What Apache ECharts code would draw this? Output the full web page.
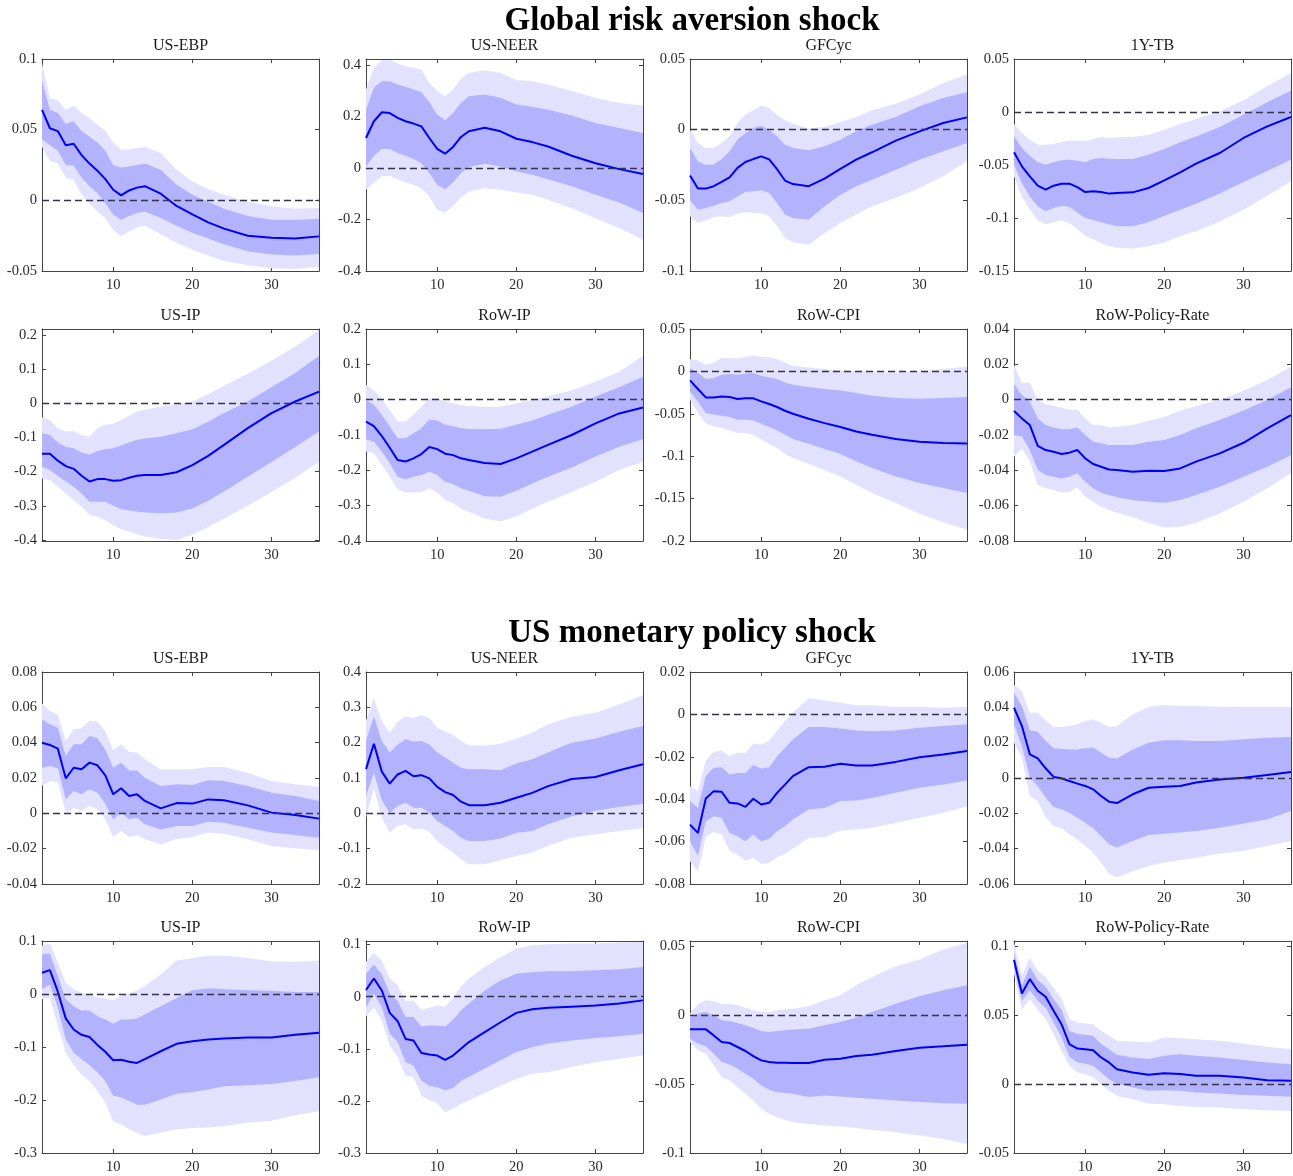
<!DOCTYPE html>
<html>
<head>
<meta charset="utf-8">
<script src="https://cdn.jsdelivr.net/npm/echarts@6/dist/echarts.min.js"></script>
<style>
html, body { margin: 0; padding: 0; background: #fff; }
#main { width: 1293px; height: 1176px; }
</style>
</head>
<body>
<div id="main"></div>
<script>
var horizons = [1,2,3,4,5,6,7,8,9,10,11,12,13,14, 16,18,20,22,24,27,30,33,36];

// ---- Global risk aversion shock ----
var grEbpMed  = [.064,.051,.049,.039,.040,.032,.026,.021,.015,.0075,.0035,.007,.009,.010, .0047,-.004,-.010,-.0156,-.020,-.025,-.0264,-.027,-.0255];
var grEbpHi90 = [.097,.072,.071,.064,.067,.062,.058,.0535,.049,.041,.036,.036,.037,.038, .0335,.0217,.0134,.008,.004,-.001,-.0042,-.0059,-.0054];
var grEbpHi68 = [.085,.064,.062,.054,.056,.049,.045,.041,.035,.025,.023,.024,.025,.026, .0217,.011,.004,-.001,-.006,-.011,-.0137,-.014,-.013];
var grEbpLo68 = [.043,.039,.035,.025,.0245,.016,.010,.005,-.002,-.010,-.014,-.011,-.009,-.008, -.0125,-.018,-.023,-.027,-.031,-.036,-.0384,-.039,-.038];
var grEbpLo90 = [.038,.028,.026,.016,.0146,.004,-.002,-.008,-.0125,-.021,-.0255,-.022,-.019,-.018, -.024,-.030,-.035,-.039,-.043,-.046,-.048,-.0486,-.047];

var grNeerMed  = [.117,.182,.217,.214,.195,.182,.173,.162,.117,.075,.056,.082,.121,.143, .157,.143,.114,.101,.084,.048,.019,-.004,-.023];
var grNeerHi90 = [.305,.39,.42,.42,.407,.396,.39,.383,.331,.30,.279,.305,.347,.37, .38,.37,.342,.338,.325,.30,.273,.253,.243];
var grNeerHi68 = [.227,.312,.338,.338,.325,.316,.305,.295,.256,.208,.186,.214,.253,.279, .286,.273,.247,.238,.227,.204,.175,.156,.136];
var grNeerLo68 = [.006,.048,.074,.074,.058,.048,.035,.019,-.019,-.065,-.082,-.056,-.019,.004, .017,.006,-.013,-.026,-.043,-.071,-.104,-.134,-.175];
var grNeerLo90 = [-.084,-.058,-.032,-.030,-.043,-.056,-.065,-.078,-.11,-.162,-.173,-.147,-.113,-.091, -.078,-.084,-.095,-.104,-.123,-.156,-.195,-.234,-.279];

var grGfcMed  = [-.0325,-.0417,-.0417,-.040,-.037,-.0337,-.027,-.0229,-.0208,-.0189,-.021,-.028,-.036,-.0385, -.040,-.0347,-.0278,-.0212,-.016,-.0078,-.0012,.0047,.0087];
var grGfcHi90 = [0,-.0094,-.013,-.013,-.0094,-.0047,.0047,.0106,.0137,.017,.0153,.0106,.0066,.0042, .0009,.0019,.0052,.009,.0137,.0184,.0248,.033,.039];
var grGfcHi68 = [-.013,-.0224,-.025,-.0248,-.0208,-.0153,-.0071,-.0024,.0012,.0028,0,-.0047,-.0106,-.013, -.0146,-.0118,-.0071,-.0012,.0035,.009,.0165,.0224,.0264];
var grGfcLo68 = [-.05,-.0566,-.0554,-.0538,-.0519,-.0507,-.0472,-.0441,-.0436,-.0429,-.0448,-.0519,-.060,-.0625, -.0637,-.0542,-.046,-.040,-.0354,-.0283,-.0212,-.0153,-.0094];
var grGfcLo90 = [-.0613,-.066,-.0642,-.062,-.0613,-.062,-.0594,-.0585,-.059,-.059,-.0613,-.0684,-.0767,-.0797, -.0814,-.0731,-.066,-.0601,-.0542,-.0483,-.0413,-.033,-.0224];

var grTbMed  = [-.038,-.0513,-.0607,-.0695,-.0733,-.0695,-.0676,-.0676,-.0708,-.0755,-.0748,-.0755,-.077,-.0764, -.0758,-.0717,-.0645,-.0569,-.0487,-.0387,-.0245,-.0135,-.0047];
var grTbHi90 = [-.0113,-.0198,-.0261,-.0308,-.0308,-.0299,-.0286,-.027,-.027,-.0277,-.0255,-.0236,-.0245,-.0239, -.0236,-.0214,-.0167,-.0113,-.0066,.0006,.011,.0242,.0368];
var grTbHi68 = [-.0223,-.034,-.0412,-.0475,-.0497,-.0475,-.0456,-.045,-.0459,-.0475,-.0443,-.0434,-.044,-.0443, -.0443,-.0403,-.0349,-.0286,-.023,-.0142,-.0025,.0091,.0204];
var grTbLo68 = [-.0497,-.067,-.0796,-.089,-.0937,-.0906,-.0884,-.0896,-.0947,-.1,-.102,-.104,-.106,-.1079, -.1079,-.104,-.0978,-.0921,-.0865,-.077,-.066,-.0557,-.0447];
var grTbLo90 = [-.0607,-.0796,-.0921,-.1022,-.106,-.104,-.1022,-.105,-.1104,-.1167,-.12,-.1236,-.1267,-.128, -.129,-.1267,-.123,-.1173,-.1126,-.1032,-.0921,-.0789,-.0654];

var grUsipMed  = [-.148,-.148,-.168,-.184,-.192,-.212,-.229,-.222,-.222,-.227,-.225,-.218,-.212,-.21, -.21,-.202,-.181,-.154,-.122,-.073,-.029,.005,.034];
var grUsipHi90 = [-.041,-.049,-.073,-.083,-.081,-.093,-.098,-.073,-.063,-.06,-.049,-.037,-.024,-.0195, -.01,-.003,.005,.026,.051,.086,.124,.166,.213];
var grUsipHi68 = [-.088,-.093,-.115,-.127,-.132,-.144,-.151,-.14,-.135,-.132,-.124,-.115,-.107,-.103, -.098,-.088,-.076,-.054,-.029,.005,.047,.088,.139];
var grUsipLo68 = [-.186,-.195,-.213,-.229,-.244,-.264,-.288,-.288,-.288,-.3,-.31,-.314,-.317,-.32, -.322,-.32,-.308,-.285,-.258,-.215,-.172,-.128,-.083];
var grUsipLo90 = [-.22,-.225,-.244,-.264,-.283,-.303,-.327,-.332,-.342,-.356,-.369,-.376,-.383,-.39, -.397,-.40,-.385,-.362,-.338,-.30,-.26,-.218,-.171];

var grRowipMed  = [-.062,-.075,-.103,-.136,-.171,-.175,-.166,-.154,-.134,-.14,-.153,-.157,-.166,-.171, -.179,-.182,-.166,-.147,-.128,-.1,-.067,-.039,-.022];
var grRowipHi90 = [.042,.027,.001,-.029,-.062,-.062,-.043,-.02,.004,.004,-.006,-.01,-.015,-.018, -.02,-.02,-.01,-.001,.009,.027,.051,.079,.124];
var grRowipHi68 = [-.001,-.015,-.043,-.075,-.109,-.109,-.095,-.081,-.056,-.059,-.071,-.075,-.081,-.083, -.084,-.082,-.071,-.059,-.043,-.02,.009,.035,.065];
var grRowipLo68 = [-.112,-.119,-.147,-.18,-.218,-.225,-.218,-.213,-.204,-.213,-.232,-.239,-.251,-.258, -.273,-.275,-.258,-.237,-.218,-.192,-.161,-.133,-.112];
var grRowipLo90 = [-.147,-.152,-.185,-.218,-.254,-.263,-.263,-.261,-.251,-.263,-.284,-.293,-.308,-.317, -.336,-.345,-.331,-.308,-.289,-.261,-.232,-.199,-.176];

var grCpiMed  = [-.0106,-.0208,-.0307,-.0307,-.0295,-.0303,-.0326,-.0318,-.0318,-.0354,-.0385,-.042,-.0464,-.05, -.0558,-.061,-.0656,-.0708,-.0747,-.0798,-.083,-.0845,-.085];
var grCpiHi90 = [.0145,.013,.0079,.0098,.0157,.0157,.0153,.0169,.0189,.0169,.0165,.0145,.0106,.0067, .0047,.0028,.0012,0,-.0012,-.0012,0,.0028,.0059];
var grCpiHi68 = [.0039,-.002,-.009,-.0079,-.0039,-.0031,-.0039,-.0028,-.002,-.0051,-.0071,-.009,-.013,-.0157, -.0185,-.0208,-.0224,-.0255,-.0287,-.0314,-.0322,-.0314,-.0303];
var grCpiLo68 = [-.0236,-.0354,-.0491,-.0508,-.0523,-.0539,-.057,-.057,-.0578,-.0617,-.0656,-.0696,-.0747,-.0798, -.0853,-.0916,-.0975,-.1061,-.114,-.1238,-.1317,-.1376,-.1435];
var grCpiLo90 = [-.0334,-.0491,-.061,-.0649,-.0668,-.0696,-.0727,-.0727,-.0747,-.0806,-.0853,-.0904,-.0971,-.1022, -.1089,-.1167,-.1238,-.1336,-.1435,-.1553,-.1679,-.178,-.1866];

var grRateMed  = [-.0064,-.0106,-.0144,-.0261,-.0285,-.0295,-.0308,-.03,-.0285,-.0332,-.0364,-.038,-.0395,-.0398, -.0408,-.0402,-.0404,-.0389,-.0351,-.0304,-.0244,-.0162,-.0087];
var grRateHi90 = [.0196,.0096,.0096,-.0002,-.0026,-.0036,-.0045,-.0059,-.0055,-.0106,-.0144,-.0144,-.0157,-.0153, -.0144,-.0119,-.0096,-.0062,-.0036,-.0002,.0051,.0111,.0187];
var grRateHi68 = [.0089,.0026,-.0011,-.0106,-.0144,-.0157,-.0168,-.0168,-.0157,-.02,-.0238,-.0247,-.0257,-.0257, -.0257,-.0238,-.0229,-.02,-.0162,-.0115,-.0062,-.0002,.007];
var grRateLo68 = [-.02,-.0209,-.0285,-.0398,-.0427,-.0436,-.0446,-.0436,-.0417,-.0464,-.0502,-.0527,-.054,-.0553, -.0568,-.0578,-.0584,-.0568,-.054,-.0493,-.0436,-.038,-.0314];
var grRateLo90 = [-.0323,-.0276,-.0351,-.0483,-.0502,-.0512,-.0527,-.0521,-.0497,-.0549,-.0578,-.0606,-.0625,-.064, -.0666,-.0697,-.0723,-.0719,-.0697,-.0644,-.0578,-.0502,-.0417];

// ---- US monetary policy shock ----
var mpEbpMed  = [.04,.0387,.0366,.0198,.0258,.0249,.0287,.0272,.0215,.0108,.0142,.0098,.0108,.007, .0028,.0058,.0055,.0079,.0074,.0045,.0004,-.0009,-.003];
var mpEbpHi90 = [.0621,.058,.056,.0409,.0475,.0481,.0526,.0519,.0466,.0357,.039,.0349,.0343,.0306, .0249,.0249,.0249,.0262,.0262,.023,.0183,.0164,.0149];
var mpEbpHi68 = [.0532,.0504,.0485,.0325,.0391,.0391,.0438,.0425,.0362,.0258,.0287,.0243,.0243,.0202, .0155,.0164,.016,.0187,.0183,.0155,.0117,.0098,.007];
var mpEbpLo68 = [.0258,.0268,.0255,.0079,.0126,.0108,.0136,.0117,.0055,-.0034,.0004,-.0034,-.0025,-.0062, -.0091,-.0072,-.0072,-.0047,-.0053,-.0081,-.0109,-.0123,-.0138];
var mpEbpLo90 = [.0155,.0183,.0174,.0004,.0032,.0013,.0042,.0023,-.0034,-.0134,-.01,-.0134,-.0123,-.0147, -.0175,-.0147,-.0134,-.0109,-.0115,-.0147,-.0185,-.0198,-.0209];

var mpNeerMed  = [.125,.197,.118,.084,.11,.12,.105,.108,.099,.075,.06,.052,.033,.023, .023,.03,.044,.058,.077,.097,.103,.122,.139];
var mpNeerHi90 = [.263,.325,.259,.228,.259,.275,.269,.278,.269,.242,.231,.222,.205,.192, .191,.197,.212,.228,.252,.273,.285,.308,.335];
var mpNeerHi68 = [.205,.275,.205,.172,.195,.21,.203,.205,.195,.172,.158,.143,.129,.125, .125,.122,.141,.153,.172,.2,.212,.231,.247];
var mpNeerLo68 = [.049,.115,.037,.002,.021,.03,.016,.016,.002,-.022,-.036,-.05,-.069,-.078, -.078,-.071,-.055,-.05,-.031,-.008,.007,.018,.027];
var mpNeerLo90 = [-.012,.071,-.012,-.055,-.036,-.031,-.045,-.042,-.052,-.078,-.095,-.111,-.13,-.144, -.144,-.133,-.121,-.111,-.092,-.069,-.059,-.05,-.042];

var mpGfcMed  = [-.052,-.0559,-.0397,-.0362,-.0365,-.0417,-.042,-.0436,-.0398,-.0425,-.0417,-.037,-.0331,-.0291, -.0249,-.0247,-.0233,-.0241,-.0241,-.0224,-.0202,-.0189,-.0173];
var mpGfcHi90 = [-.0339,-.0362,-.0217,-.0176,-.017,-.0197,-.0181,-.0181,-.0137,-.0142,-.0126,-.0076,-.0031,.0008, .0076,.0066,.0055,.0043,.0043,.0035,.0035,.0031,.0035];
var mpGfcHi68 = [-.0409,-.0441,-.0291,-.0252,-.0249,-.0283,-.0276,-.0276,-.0239,-.0255,-.0249,-.0197,-.0157,-.0118, -.006,-.006,-.0066,-.0076,-.0079,-.0076,-.0063,-.0055,-.0047];
var mpGfcLo68 = [-.0598,-.0665,-.0504,-.048,-.0488,-.0559,-.0575,-.0598,-.0567,-.0598,-.0586,-.0551,-.0528,-.0496, -.0449,-.0441,-.0409,-.0406,-.0394,-.037,-.0346,-.0331,-.0312];
var mpGfcLo90 = [-.0693,-.074,-.058,-.0554,-.0567,-.0643,-.0661,-.069,-.0677,-.0706,-.0701,-.0674,-.0658,-.0633, -.0583,-.058,-.0548,-.0543,-.0535,-.0512,-.0488,-.0465,-.0433];

var mpTbMed  = [.0398,.0294,.0134,.0111,.0055,.0006,-.0002,-.0017,-.0032,-.0045,-.0064,-.0102,-.0134,-.0142, -.0092,-.0055,-.0049,-.0045,-.0026,-.0008,.0002,.0017,.0034];
var mpTbHi90 = [.0526,.0492,.037,.037,.0326,.0289,.0289,.0294,.0304,.0323,.0332,.0313,.0289,.0294, .036,.0402,.0413,.0408,.0408,.0404,.0402,.0402,.0402];
var mpTbHi68 = [.0483,.0408,.027,.0262,.0209,.0168,.0166,.0162,.0162,.0168,.0172,.0143,.0115,.0111, .0162,.02,.0213,.0213,.0209,.0209,.0219,.0228,.0232];
var mpTbLo68 = [.0304,.0181,.0006,-.0045,-.0111,-.0164,-.0177,-.0196,-.0225,-.0253,-.0285,-.0328,-.0375,-.0394, -.0357,-.0323,-.0315,-.0309,-.03,-.0281,-.0258,-.0234,-.0187];
var mpTbLo90 = [.02,.0115,-.0102,-.013,-.0221,-.0272,-.0285,-.0319,-.0347,-.0385,-.0423,-.0479,-.0542,-.0562, -.0528,-.0498,-.0479,-.0466,-.0451,-.0428,-.0413,-.0385,-.0357];

var mpUsipMed  = [.04,.045,.0044,-.046,-.067,-.077,-.081,-.096,-.109,-.125,-.124,-.128,-.13,-.123, -.108,-.094,-.089,-.086,-.084,-.082,-.082,-.077,-.073];
var mpUsipHi90 = [.091,.095,.059,.021,.009,.003,-.001,-.006,-.008,-.012,-.004,.001,.007,.015, .037,.063,.068,.072,.072,.068,.062,.061,.063];
var mpUsipHi68 = [.075,.076,.034,-.01,-.023,-.031,-.031,-.042,-.048,-.056,-.048,-.048,-.046,-.038, -.023,-.008,.007,.011,.009,.007,.006,.004,.004];
var mpUsipLo68 = [.009,.018,-.026,-.086,-.111,-.123,-.134,-.148,-.164,-.192,-.195,-.202,-.209,-.209, -.199,-.188,-.185,-.18,-.174,-.172,-.17,-.164,-.157];
var mpUsipLo90 = [-.01,-.007,-.06,-.111,-.134,-.152,-.164,-.183,-.205,-.24,-.246,-.255,-.262,-.268, -.262,-.255,-.253,-.252,-.249,-.243,-.239,-.229,-.221];

var mpRowipMed  = [.013,.035,.012,-.031,-.047,-.081,-.084,-.108,-.111,-.113,-.121,-.113,-.1,-.087, -.068,-.049,-.031,-.024,-.021,-.019,-.017,-.013,-.007];
var mpRowipHi90 = [.067,.084,.069,.035,.022,-.008,-.007,-.025,-.021,-.017,-.019,-.002,.019,.035, .057,.076,.092,.099,.101,.102,.102,.104,.105];
var mpRowipHi68 = [.044,.062,.043,.006,-.008,-.039,-.039,-.057,-.055,-.055,-.057,-.044,-.026,-.013, .012,.031,.044,.047,.049,.049,.051,.053,.057];
var mpRowipLo68 = [-.02,.006,-.02,-.071,-.087,-.126,-.132,-.161,-.171,-.174,-.18,-.175,-.162,-.154, -.138,-.122,-.106,-.097,-.09,-.084,-.079,-.076,-.071];
var mpRowipLo90 = [-.038,-.02,-.046,-.094,-.116,-.151,-.154,-.19,-.199,-.204,-.222,-.215,-.206,-.199, -.185,-.171,-.158,-.148,-.145,-.135,-.126,-.119,-.113];

var mpCpiMed  = [-.0104,-.0104,-.0104,-.0148,-.0196,-.0203,-.0232,-.0261,-.0298,-.0329,-.0341,-.0346,-.0346,-.0348, -.0348,-.0324,-.0317,-.0298,-.0288,-.0261,-.0237,-.0227,-.0215];
var mpCpiHi90 = [.001,.0077,.0106,.0102,.0077,.0082,.007,.0053,.0034,.0022,.0022,.0034,.0041,.0046, .0063,.0106,.0143,.0215,.0276,.0353,.0402,.0474,.0523];
var mpCpiHi68 = [-.0015,.001,.0022,-.0002,-.0039,-.0044,-.0058,-.0075,-.0092,-.0116,-.0123,-.0116,-.0111,-.0106, -.0099,-.0075,-.0051,-.0019,.0022,.0082,.0135,.0179,.0215];
var mpCpiLo68 = [-.0172,-.0208,-.0227,-.028,-.0341,-.0358,-.0389,-.0426,-.0462,-.0511,-.0542,-.0559,-.0566,-.0571, -.0595,-.0583,-.059,-.06,-.0607,-.0619,-.0631,-.0639,-.0643];
var mpCpiLo90 = [-.0196,-.0256,-.028,-.0365,-.0452,-.0474,-.0524,-.0571,-.062,-.068,-.0716,-.0741,-.076,-.0777, -.0789,-.0801,-.0808,-.0818,-.0832,-.0849,-.0873,-.0898,-.0934];

var mpRateMed  = [.0902,.0659,.0763,.0679,.0635,.0533,.0436,.0291,.0259,.0254,.0247,.0194,.0158,.0109, .0085,.0068,.008,.0073,.0061,.0061,.0048,.0029,.0024];
var mpRateHi90 = [.103,.0788,.0917,.0824,.0776,.0698,.0625,.0473,.0448,.0441,.0436,.0388,.0351,.0315, .031,.0303,.0339,.0334,.0327,.0315,.0296,.0271,.0254];
var mpRateHi68 = [.0957,.0715,.0853,.0756,.0708,.0618,.0538,.0388,.0364,.0359,.0351,.0291,.0254,.0213, .0194,.0182,.0206,.0218,.0206,.0194,.0175,.0158,.0145];
var mpRateLo68 = [.0848,.0606,.0683,.0606,.0553,.0448,.0339,.0199,.0158,.015,.0133,.0085,.0036,.0005, -.0024,-.0048,-.0044,-.0048,-.0061,-.0068,-.0078,-.0085,-.0092];
var mpRateLo90 = [.08,.0545,.0618,.0538,.0473,.0364,.0242,.0133,.0085,.0073,.0048,0,-.0048,-.0085, -.0109,-.0141,-.0145,-.0158,-.0165,-.017,-.0182,-.0189,-.0194];

// tick labels
var xTicks = [10, 20, 30];
var ticksEbpG  = [-0.05, 0, 0.05, 0.1];
var ticksNeerG = [-0.4, -0.2, 0, 0.2, 0.4];
var ticksGfcG  = [-0.1, -0.05, 0, 0.05];
var ticksTbG   = [-0.15, -0.1, -0.05, 0, 0.05];
var ticksIpG   = [-0.4, -0.3, -0.2, -0.1, 0, 0.1, 0.2];
var ticksCpiG  = [-0.2, -0.15, -0.1, -0.05, 0, 0.05];
var ticksRateG = [-0.08, -0.06, -0.04, -0.02, 0, 0.02, 0.04];
var ticksEbpM  = [-0.04, -0.02, 0, 0.02, 0.04, 0.06, 0.08];
var ticksNeerM = [-0.2, -0.1, 0, 0.1, 0.2, 0.3, 0.4];
var ticksGfcM  = [-0.08, -0.06, -0.04, -0.02, 0, 0.02];
var ticksTbM   = [-0.06, -0.04, -0.02, 0, 0.02, 0.04, 0.06];
var ticksIpM   = [-0.3, -0.2, -0.1, 0, 0.1];
var ticksCpiM  = [-0.1, -0.05, 0, 0.05];
var ticksRateM = [-0.05, 0, 0.05, 0.1];

var panels = [
    { name: 'US-EBP', med: grEbpMed, hi90: grEbpHi90, hi68: grEbpHi68, lo68: grEbpLo68, lo90: grEbpLo90, min: -0.05, max: 0.1, ticks: ticksEbpG },
    { name: 'US-NEER', med: grNeerMed, hi90: grNeerHi90, hi68: grNeerHi68, lo68: grNeerLo68, lo90: grNeerLo90, min: -0.4, max: 0.424, ticks: ticksNeerG },
    { name: 'GFCyc', med: grGfcMed, hi90: grGfcHi90, hi68: grGfcHi68, lo68: grGfcLo68, lo90: grGfcLo90, min: -0.1, max: 0.05, ticks: ticksGfcG },
    { name: '1Y-TB', med: grTbMed, hi90: grTbHi90, hi68: grTbHi68, lo68: grTbLo68, lo90: grTbLo90, min: -0.15, max: 0.05, ticks: ticksTbG },
    { name: 'US-IP', med: grUsipMed, hi90: grUsipHi90, hi68: grUsipHi68, lo68: grUsipLo68, lo90: grUsipLo90, min: -0.403, max: 0.217, ticks: ticksIpG },
    { name: 'RoW-IP', med: grRowipMed, hi90: grRowipHi90, hi68: grRowipHi68, lo68: grRowipLo68, lo90: grRowipLo90, min: -0.4, max: 0.2, ticks: ticksIpG },
    { name: 'RoW-CPI', med: grCpiMed, hi90: grCpiHi90, hi68: grCpiHi68, lo68: grCpiLo68, lo90: grCpiLo90, min: -0.2, max: 0.05, ticks: ticksCpiG },
    { name: 'RoW-Policy-Rate', med: grRateMed, hi90: grRateHi90, hi68: grRateHi68, lo68: grRateLo68, lo90: grRateLo90, min: -0.08, max: 0.04, ticks: ticksRateG },
    { name: 'US-EBP', med: mpEbpMed, hi90: mpEbpHi90, hi68: mpEbpHi68, lo68: mpEbpLo68, lo90: mpEbpLo90, min: -0.04, max: 0.08, ticks: ticksEbpM },
    { name: 'US-NEER', med: mpNeerMed, hi90: mpNeerHi90, hi68: mpNeerHi68, lo68: mpNeerLo68, lo90: mpNeerLo90, min: -0.2, max: 0.4, ticks: ticksNeerM },
    { name: 'GFCyc', med: mpGfcMed, hi90: mpGfcHi90, hi68: mpGfcHi68, lo68: mpGfcLo68, lo90: mpGfcLo90, min: -0.08, max: 0.02, ticks: ticksGfcM },
    { name: '1Y-TB', med: mpTbMed, hi90: mpTbHi90, hi68: mpTbHi68, lo68: mpTbLo68, lo90: mpTbLo90, min: -0.06, max: 0.06, ticks: ticksTbM },
    { name: 'US-IP', med: mpUsipMed, hi90: mpUsipHi90, hi68: mpUsipHi68, lo68: mpUsipLo68, lo90: mpUsipLo90, min: -0.3, max: 0.1, ticks: ticksIpM },
    { name: 'RoW-IP', med: mpRowipMed, hi90: mpRowipHi90, hi68: mpRowipHi68, lo68: mpRowipLo68, lo90: mpRowipLo90, min: -0.3, max: 0.107, ticks: ticksIpM },
    { name: 'RoW-CPI', med: mpCpiMed, hi90: mpCpiHi90, hi68: mpCpiHi68, lo68: mpCpiLo68, lo90: mpCpiLo90, min: -0.1, max: 0.0536, ticks: ticksCpiM },
    { name: 'RoW-Policy-Rate', med: mpRateMed, hi90: mpRateHi90, hi68: mpRateHi68, lo68: mpRateLo68, lo90: mpRateLo90, min: -0.05, max: 0.104, ticks: ticksRateM }
];

var colLeft = [42, 366, 690, 1014];
var rowTop = [59, 329, 672, 941];
var plotW = 277, plotH = 212;
var serif = '"Liberation Serif", "DejaVu Serif", serif';
var axisColor = '#444';
var lightBand = '#e2e2fe';
var darkBand = '#b3b3fd';

function pairs(xs, ys) {
    return xs.map(function (x, k) { return [x, ys[k]]; });
}
function band(xs, lo, hi) {
    return xs.map(function (x, k) { return [x, lo[k], hi[k]]; });
}

// one polygon per band, built from all points of the series
function renderBand(params, api) {
    if (params.dataIndexInside !== 0) return;
    var n = params.dataInsideLength;
    var upper = [], lower = [];
    for (var j = 0; j < n; j++) {
        upper.push(api.coord([api.value(0, j), api.value(2, j)]));
        lower.push(api.coord([api.value(0, j), api.value(1, j)]));
    }
    return {
        type: 'polygon',
        shape: { points: upper.concat(lower.reverse()) },
        style: { fill: api.visual('color') },
        silent: true
    };
}

var grids = [], xAxes = [], yAxes = [], series = [], texts = [];

function headText(x, y, text, font, fill) {
    return { type: 'text', x: x, y: y, style: { text: text, font: font, fill: fill, align: 'center', verticalAlign: 'middle', textAlign: 'center', textVerticalAlign: 'middle' } };
}
texts.push(headText(692, 21, 'Global risk aversion shock', 'bold 33px ' + serif, '#000'));
texts.push(headText(692, 633, 'US monetary policy shock', 'bold 33px ' + serif, '#000'));

panels.forEach(function (p, i) {
    var r = Math.floor(i / 4), c = i % 4;
    grids.push({ left: colLeft[c], top: rowTop[r], width: plotW, height: plotH, containLabel: false, show: false });

    texts.push(headText(colLeft[c] + plotW / 2, rowTop[r] - 13, p.name, '16px ' + serif, '#1a1a1a'));

    var line = { show: true, onZero: false, lineStyle: { color: axisColor, width: 1 } };
    xAxes.push({
        type: 'value', gridIndex: i, min: 1, max: 36, position: 'bottom',
        axisLine: line,
        axisTick: { show: true, inside: true, length: 4, customValues: xTicks, lineStyle: { color: axisColor } },
        axisLabel: { show: true, customValues: xTicks, margin: 7, fontFamily: serif, fontSize: 14.5, color: '#2a2a2a' },
        splitLine: { show: false }
    });
    xAxes.push({
        type: 'value', gridIndex: i, min: 1, max: 36, position: 'top',
        axisLine: line,
        axisTick: { show: true, inside: true, length: 4, customValues: xTicks, lineStyle: { color: axisColor } },
        axisLabel: { show: false },
        splitLine: { show: false }
    });
    yAxes.push({
        type: 'value', gridIndex: i, min: p.min, max: p.max, position: 'left',
        axisLine: line,
        axisTick: { show: true, inside: true, length: 4, customValues: p.ticks, lineStyle: { color: axisColor } },
        axisLabel: { show: true, customValues: p.ticks, margin: 5, fontFamily: serif, fontSize: 14.5, color: '#2a2a2a' },
        splitLine: { show: false }
    });
    yAxes.push({
        type: 'value', gridIndex: i, min: p.min, max: p.max, position: 'right',
        axisLine: line,
        axisTick: { show: true, inside: true, length: 4, customValues: p.ticks, lineStyle: { color: axisColor } },
        axisLabel: { show: false },
        splitLine: { show: false }
    });

    series.push({
        type: 'custom', xAxisIndex: 2 * i, yAxisIndex: 2 * i,
        renderItem: renderBand, data: band(horizons, p.lo90, p.hi90),
        encode: { x: 0, y: [1, 2] }, itemStyle: { color: lightBand }, clip: true, silent: true, z: 1
    });
    series.push({
        type: 'custom', xAxisIndex: 2 * i, yAxisIndex: 2 * i,
        renderItem: renderBand, data: band(horizons, p.lo68, p.hi68),
        encode: { x: 0, y: [1, 2] }, itemStyle: { color: darkBand }, clip: true, silent: true, z: 2
    });
    series.push({
        type: 'line', xAxisIndex: 2 * i, yAxisIndex: 2 * i,
        data: pairs(horizons, p.med), showSymbol: false, symbol: 'none',
        lineStyle: { color: '#0000f5', width: 2 }, clip: true, z: 4,
        markLine: {
            silent: true, symbol: ['none', 'none'], label: { show: false },
            lineStyle: { color: '#33334a', type: [7, 4], width: 1.3 },
            data: [{ yAxis: 0 }]
        }
    });
});

var chart = echarts.init(document.getElementById('main'));
chart.setOption({
    animation: false,
    backgroundColor: '#fff',
    grid: grids,
    xAxis: xAxes,
    yAxis: yAxes,
    series: series,
    graphic: texts
});
</script>
</body>
</html>
